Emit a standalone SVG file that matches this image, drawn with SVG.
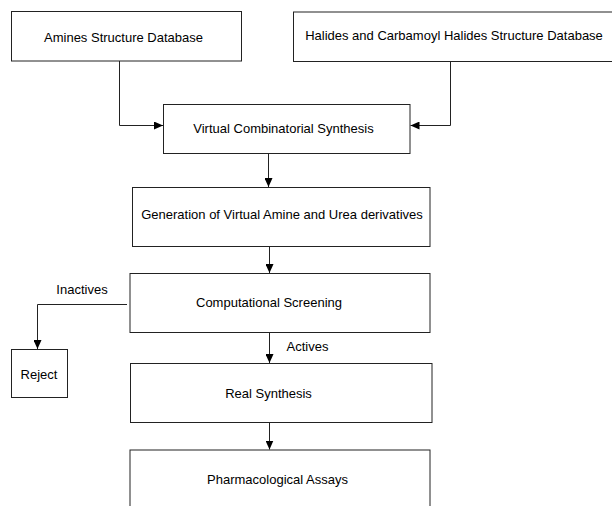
<svg xmlns="http://www.w3.org/2000/svg" width="612" height="506" viewBox="0 0 612 506">
<style>
.box{fill:#fff;stroke:#222;stroke-width:1}
.lbl{font-family:"Liberation Sans",Arial,sans-serif;font-size:13px;fill:#000}
.c{fill:none;stroke:#222;stroke-width:1;marker-end:url(#ah)}
</style>
<defs>
<marker id="ah" markerUnits="userSpaceOnUse" markerWidth="10" markerHeight="8" refX="9" refY="4" orient="auto">
<path d="M0,0 L9,4 L0,8 Z" fill="#000"/>
</marker>
</defs>
<rect width="612" height="506" fill="#fff"/>
<g id="connectors">
<path class="c" d="M119.5,61 V125.5 H163"/>
<path class="c" d="M450.5,62 V125.5 H410.5"/>
<path class="c" d="M268.5,153.5 V187"/>
<path class="c" d="M269.5,246.5 V273"/>
<path class="c" d="M127,304.5 H37.5 V349"/>
<path class="c" d="M269.5,332.5 V363"/>
<path class="c" d="M269.5,422.5 V449.5"/>
<text class="lbl" x="82" y="293.5" text-anchor="middle">Inactives</text>
<text class="lbl" x="286.5" y="350.5">Actives</text>
</g>
<g id="amines">
<rect class="box" x="11.5" y="11.5" width="230" height="49.5"/>
<text class="lbl" x="123.5" y="41.5" text-anchor="middle">Amines Structure Database</text>
</g>
<g id="halides">
<rect class="box" x="293.5" y="12" width="330" height="49.5"/>
<text class="lbl" x="454" y="40" text-anchor="middle">Halides and Carbamoyl Halides Structure Database</text>
</g>
<g id="vcs">
<rect class="box" x="163.5" y="104.5" width="246.5" height="49"/>
<text class="lbl" x="283.5" y="132.5" text-anchor="middle">Virtual Combinatorial Synthesis</text>
</g>
<g id="generation">
<rect class="box" x="132.5" y="187.5" width="297.5" height="59"/>
<text class="lbl" x="282" y="218.5" text-anchor="middle">Generation of Virtual Amine and Urea derivatives</text>
</g>
<g id="screening">
<rect class="box" x="130" y="273.5" width="300" height="59"/>
<text class="lbl" x="269" y="307" text-anchor="middle">Computational Screening</text>
</g>
<g id="reject">
<rect class="box" x="11.5" y="349.5" width="56" height="48"/>
<text class="lbl" x="39" y="378.5" text-anchor="middle">Reject</text>
</g>
<g id="real">
<rect class="box" x="130.5" y="363.5" width="301.5" height="59"/>
<text class="lbl" x="268.5" y="397.5" text-anchor="middle">Real Synthesis</text>
</g>
<g id="pharma">
<rect class="box" x="130" y="450" width="300" height="70"/>
<text class="lbl" x="277.5" y="484" text-anchor="middle">Pharmacological Assays</text>
</g>
</svg>
